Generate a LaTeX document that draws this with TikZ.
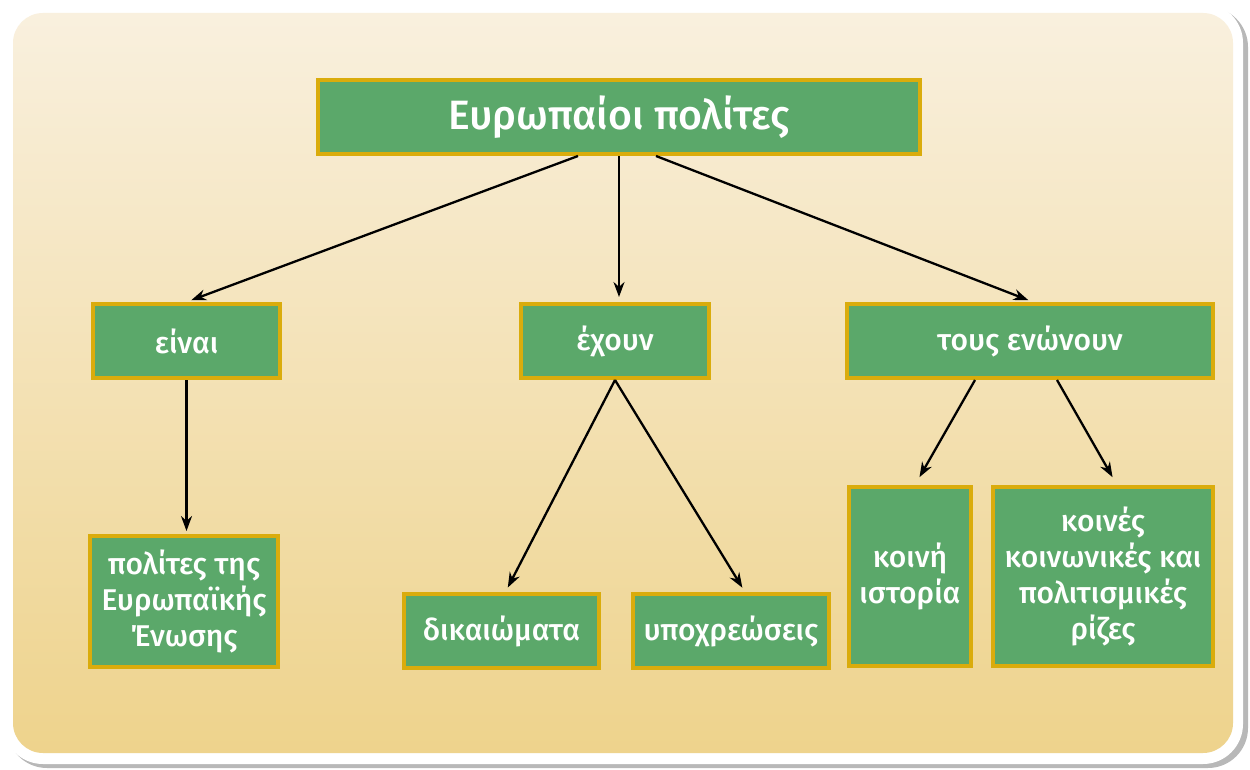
\documentclass[tikz,border=0pt]{standalone}
\usepackage{fontspec}
\setmainfont{Fira Sans}[UprightFont={* Medium}]
\usepackage{tikz}
\usetikzlibrary{arrows.meta}
\definecolor{boxgreen}{RGB}{91,168,106}
\definecolor{boxgold}{RGB}{218,172,12}
\definecolor{bgtop}{RGB}{249,240,222}
\definecolor{bgbot}{RGB}{238,211,140}

\begin{document}
\begin{tikzpicture}[x=1pt,y=-1pt,
  box/.style={draw=boxgold, fill=boxgreen, line width=4pt, text=white, align=center, inner sep=1pt,
    font=\fontsize{30}{36}\selectfont},
  link/.style={-{Stealth[length=15pt,width=11pt]}, line width=2.3pt, shorten >=5pt}]
\useasboundingbox (0,0) rectangle (1250,770);
% frame
\fill[black!28, rounded corners=40pt] (7,7) rectangle (1248,768);
\fill[white, rounded corners=40pt] (3,3) rectangle (1243,764);
\shade[top color=bgtop, bottom color=bgbot, rounded corners=30pt] (13,13) rectangle (1233,753);
% boxes
\node[box, minimum width=602pt, minimum height=74pt, font=\fontsize{41}{46}\selectfont] (top) at (619,117) {Ευρωπαίοι πολίτες};
\node[box, minimum width=187pt, minimum height=74pt] (eina) at (186.5,341) {είναι};
\node[box, minimum width=188pt, minimum height=74pt] (exoun) at (615,341) {έχουν};
\node[box, minimum width=366pt, minimum height=74pt] (enwn) at (1030,341) {τους ενώνουν};
\node[box, minimum width=188pt, minimum height=131pt] (polit) at (184,601.5) {πολίτες της\\Ευρωπαϊκής\\Ένωσης};
\node[box, minimum width=195pt, minimum height=74pt] (dikaio) at (501.5,631) {δικαιώματα};
\node[box, minimum width=196pt, minimum height=74pt] (ypoxr) at (731,631) {υποχρεώσεις};
\node[box, minimum width=122pt, minimum height=179pt] (istor) at (910,576.5) {κοινή\\ιστορία};
\node[box, minimum width=220pt, minimum height=179pt] (rizes) at (1103,576.5) {κοινές\\κοινωνικές και\\πολιτισμικές\\ρίζες};
% arrows
\draw[link] ([xshift=-41pt]top.south) -- (eina.north);
\draw[link] (top.south) -- ([xshift=4pt]exoun.north);
\draw[link] ([xshift=37pt]top.south) -- ([xshift=3pt]enwn.north);
\draw[link, shorten >=3pt] (eina.south) -- (eina.south |- polit.north);
\draw[link] (exoun.south) -- ([xshift=4pt]dikaio.north);
\draw[link] (exoun.south) -- ([xshift=14pt]ypoxr.north);
\draw[link, shorten >=9pt] ([xshift=-55pt]enwn.south) -- ([xshift=5pt]istor.north);
\draw[link, shorten >=9pt] ([xshift=27pt]enwn.south) -- ([xshift=14pt]rizes.north);
\end{tikzpicture}
\end{document}
